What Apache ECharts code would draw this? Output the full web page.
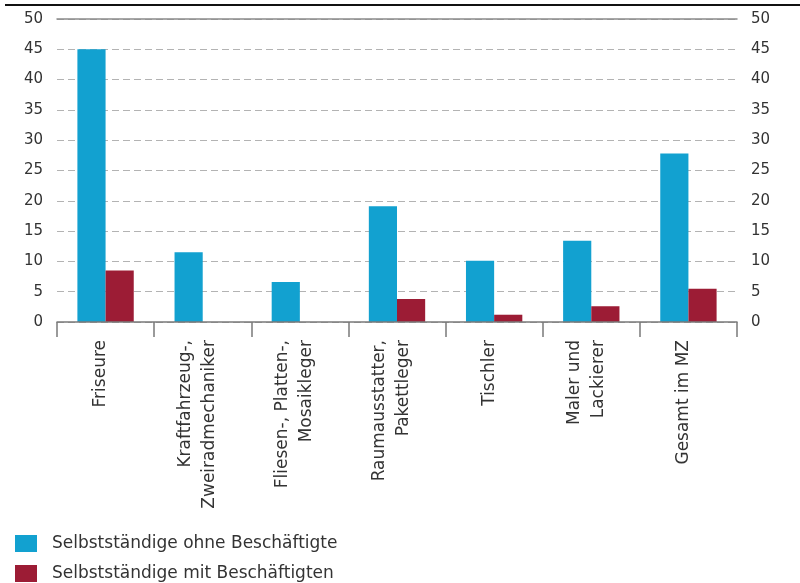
<!DOCTYPE html>
<html>
<head>
<meta charset="utf-8">
<script src="https://cdn.jsdelivr.net/npm/echarts@6/dist/echarts.min.js"></script>
<style>
html,body{margin:0;padding:0;background:#fff;}
#main{width:800px;height:583px;}
#topline{position:absolute;left:5px;top:4px;width:795px;height:2px;background:#111;}
</style>
</head>
<body>
<div id="main"></div>
<div id="topline"></div>
<script>
const categories = [
  "Friseure",
  "Kraftfahrzeug-,\nZweiradmechaniker",
  "Fliesen-, Platten-,\nMosaikleger",
  "Raumausstatter,\nPakettleger",
  "Tischler",
  "Maler und\nLackierer",
  "Gesamt im MZ"
];
const seriesNames = ["Selbstständige ohne Beschäftigte", "Selbstständige mit Beschäftigten"];
const ohneBeschaeftigte = [45.0, 11.5, 6.6, 19.1, 10.1, 13.4, 27.8];
const mitBeschaeftigten = [8.5, 0, 0, 3.8, 1.2, 2.6, 5.5];
const yMin = 0, yMax = 50, yStep = 5;

const FONT = "DejaVu Sans";
const chart = echarts.init(document.getElementById('main'), null, {renderer: 'canvas'});
const yAxisCommon = {
  type: 'value', min: yMin, max: yMax, interval: yStep,
  axisLine: {show: false}, axisTick: {show: false},
  axisLabel: {color: '#333', fontFamily: FONT, fontSize: 15, margin: 14}
};
chart.setOption({
  animation: false,
  grid: {left: 57, right: 63, top: 19, bottom: 261, containLabel: false},
  legend: {
    orient: 'vertical', left: 10, top: 530, height: 60,
    itemWidth: 22, itemHeight: 17, itemGap: 13,
    icon: 'rect',
    textStyle: {fontFamily: FONT, fontSize: 17, color: '#333', padding: [0, 0, 0, 10]},
    data: seriesNames
  },
  xAxis: [{
    type: 'category', data: categories, position: 'bottom', z: 5,
    axisLine: {onZero: false, lineStyle: {color: '#7a7a7a', width: 1.5}},
    axisTick: {show: true, interval: 0, length: 15, lineStyle: {color: '#7a7a7a', width: 1.5}},
    axisLabel: {interval: 0, rotate: 90, margin: 18, color: '#333',
      formatter: function (v) {
        return v.split('\n').map(function (l) { return '{t|' + l + '}'; }).join('\n') + '\n{g| }';
      },
      rich: {
        t: {fontFamily: FONT, fontSize: 17, lineHeight: 24, color: '#333'},
        g: {fontFamily: FONT, fontSize: 4, lineHeight: 10}
      }}
  }, {
    type: 'category', data: categories, position: 'top', z: 5,
    axisLine: {show: true, onZero: false, lineStyle: {color: '#8a8a8a', width: 1.5}},
    axisTick: {show: false}, axisLabel: {show: false}
  }],
  yAxis: [
    Object.assign({}, yAxisCommon, {position: 'left',
      splitLine: {show: true, lineStyle: {color: '#b3b3b3', type: [7, 4], width: 1}}}),
    Object.assign({}, yAxisCommon, {position: 'right', splitLine: {show: false}})
  ],
  series: [
    {name: seriesNames[0], type: 'bar', data: ohneBeschaeftigte, barGap: '0%', barCategoryGap: '42%',
     itemStyle: {color: '#12a1d0'}},
    {name: seriesNames[1], type: 'bar', data: mitBeschaeftigten, barGap: '0%', barCategoryGap: '42%',
     itemStyle: {color: '#9c1c35'}}
  ]
});
</script>
</body>
</html>
